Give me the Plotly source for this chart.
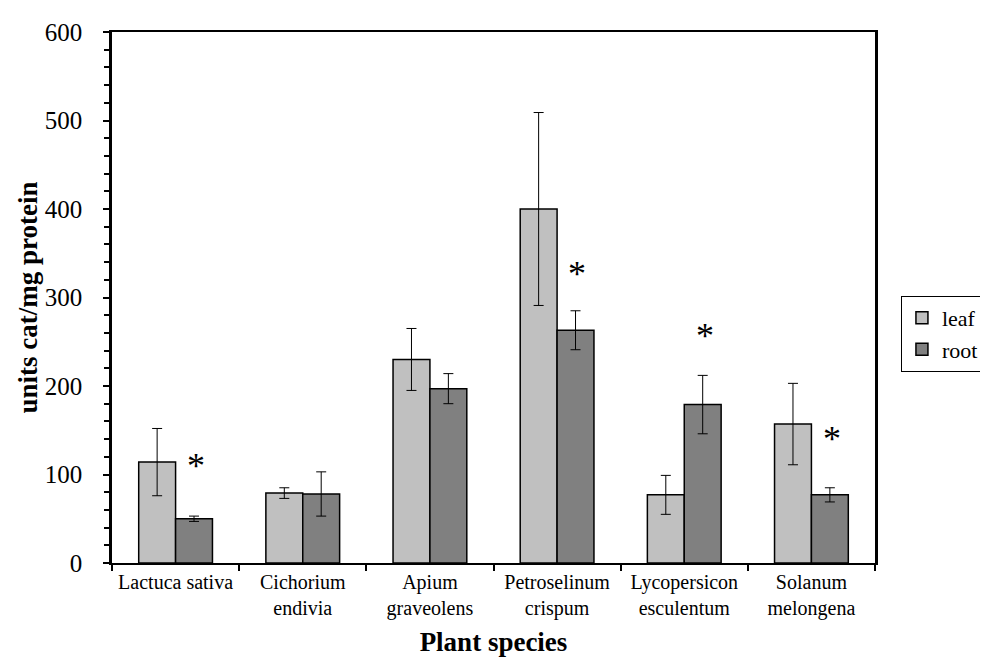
import plotly.graph_objects as go

categories = ["Lactuca sativa", "Cichorium<br>endivia", "Apium<br>graveolens",
              "Petroselinum<br>crispum", "Lycopersicon<br>esculentum", "Solanum<br>melongena"]
leaf_values = [114, 79, 230, 400, 77, 157]
leaf_errors = [38, 6, 35, 109, 22, 46]
root_values = [50, 78, 197, 263, 179, 77]
root_errors = [3, 25, 17, 22, 33, 8]
star_index = [0, 3, 4, 5]
star_y = [110, 327, 256, 140]

font_family = "Liberation Serif, Times New Roman, serif"

fig = go.Figure()
fig.add_trace(go.Bar(
    name="leaf", x=categories, y=leaf_values,
    marker=dict(color="#c0c0c0", line=dict(color="black", width=1.5)),
    error_y=dict(type="data", array=leaf_errors, color="black", thickness=1, width=5),
))
fig.add_trace(go.Bar(
    name="root", x=categories, y=root_values,
    marker=dict(color="#808080", line=dict(color="black", width=1.5)),
    error_y=dict(type="data", array=root_errors, color="black", thickness=1, width=5),
))

for i, yv in zip(star_index, star_y):
    fig.add_annotation(x=i + 0.16, y=yv, xref="x", yref="y", text="*",
                       showarrow=False, font=dict(family=font_family, size=36, color="black"),
                       yanchor="middle")

fig.update_layout(
    width=988, height=657,
    margin=dict(l=104, r=108, t=24, b=102),
    paper_bgcolor="white", plot_bgcolor="white",
    barmode="group", bargap=0.42, bargroupgap=0,
    font=dict(family=font_family, color="black"),
    showlegend=True,
    legend=dict(x=1.034, y=0.503, xanchor="left", yanchor="top",
                bordercolor="black", borderwidth=1, bgcolor="white",
                font=dict(size=22, family=font_family), tracegroupgap=0,
                itemwidth=30),
    xaxis=dict(
        showline=True, linecolor="black", linewidth=2, mirror=True,
        ticks="outside", tickson="boundaries", ticklen=6, tickcolor="black", tickwidth=2,
        tickfont=dict(size=20, family=font_family),
        title=dict(text="<b>Plant species</b>", font=dict(size=27, family=font_family), standoff=13),
        showgrid=False,
    ),
    yaxis=dict(
        range=[0, 600], dtick=100, showline=True, linecolor="black", linewidth=2.5, mirror=True,
        ticks="outside", ticklen=6, tickcolor="black", tickwidth=2, ticklabelstandoff=16,
        minor=dict(dtick=20, ticks="outside", ticklen=5, tickcolor="black", tickwidth=1.5),
        tickfont=dict(size=25, family=font_family),
        title=dict(text="<b>units cat/mg protein</b>", font=dict(size=27, family=font_family), standoff=0),
        showgrid=False, zeroline=False,
    ),
)

fig.write_html("out.html")
